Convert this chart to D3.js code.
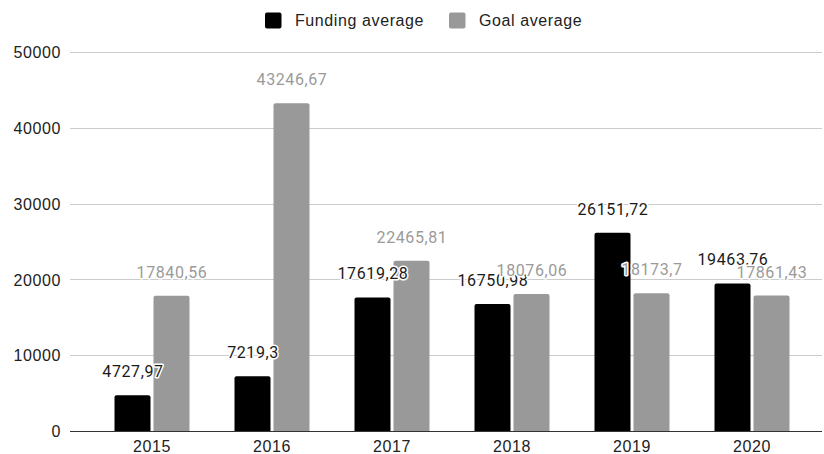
<!DOCTYPE html>
<html><head><meta charset="utf-8">
<script src="https://cdn.jsdelivr.net/npm/d3@7"></script>
<style>
html,body{margin:0;padding:0;background:#fff;}
svg{display:block;}
</style></head>
<body>
<svg id="chart" width="824" height="454"></svg>
<script>
const years = ["2015","2016","2017","2018","2019","2020"];
const fundingAverage = [4727.97, 7219.3, 17619.28, 16750.98, 26151.72, 19463.76];
const goalAverage = [17840.56, 43246.67, 22465.81, 18076.06, 18173.7, 17861.43];
const fundingLabels = ["4727,97","7219,3","17619,28","16750,98","26151,72","19463,76"];
const goalLabels = ["17840,56","43246,67","22465,81","18076,06","18173,7","17861,43"];
const yTicks = [0,10000,20000,30000,40000,50000];
const seriesNames = ["Funding average","Goal average"];
const seriesColors = ["#000000","#999999"];
const labelColors = ["#1a1a1a","#9a9a9a"];

const svg = d3.select("#chart");
const y = d3.scaleLinear().domain([0,50000]).range([431,52]);
const x = d3.scaleBand().domain(years).range([92,812]);
const xs = d3.scaleBand().domain([0,1]).range([22.5,97.5]).paddingInner(0.077);

// gridlines
svg.append("g").selectAll("line").data(yTicks.filter(d=>d>0)).join("line")
  .attr("x1",70).attr("x2",822)
  .attr("y1",d=>Math.round(y(d))+0.5).attr("y2",d=>Math.round(y(d))+0.5)
  .attr("stroke","#cccccc").attr("stroke-width",1);

// y axis labels
const yAxis = d3.axisLeft(y).tickValues(yTicks).tickSize(0).tickPadding(0).tickFormat(d3.format("d"));
const ga = svg.append("g").attr("transform","translate(61,0)").call(yAxis);
ga.select(".domain").remove();
ga.selectAll("text").attr("font-family","'Liberation Sans', Arial, sans-serif")
  .attr("font-size","16px").attr("fill","#222").attr("letter-spacing","0.6px")
  .attr("dy","0.35em");

const series = [fundingAverage, goalAverage];
const labels = [fundingLabels, goalLabels];

function barPath(x0, w, yt, yb, r){
  return `M${x0},${yb}V${yt+r}Q${x0},${yt} ${x0+r},${yt}H${x0+w-r}Q${x0+w},${yt} ${x0+w},${yt+r}V${yb}Z`;
}

series.forEach((vals,si)=>{
  svg.append("g").selectAll("path").data(vals).join("path")
    .attr("d",(v,i)=>barPath(x(years[i])+xs(si), xs.bandwidth(), y(v), y(0), 2))
    .attr("fill",seriesColors[si]);
});

// baseline
svg.append("line").attr("x1",70).attr("x2",822).attr("y1",431.5).attr("y2",431.5)
  .attr("stroke","#333").attr("stroke-width",1.2);

// x axis labels
const xAxis = d3.axisBottom(x).tickSize(0).tickPadding(0);
const gx = svg.append("g").attr("transform","translate(0,452)").call(xAxis);
gx.select(".domain").remove();
gx.selectAll("text").attr("font-family","'Liberation Sans', Arial, sans-serif")
  .attr("font-size","16px").attr("fill","#222").attr("letter-spacing","0.6px")
  .attr("dy","0");

// value labels
series.forEach((vals,si)=>{
  const g = svg.append("g");
  vals.forEach((v,i)=>{
    const cx = x(years[i])+xs(si)+xs.bandwidth()/2 + 0.5;
    const ty = y(v) - 18;
    g.append("text").attr("x",cx).attr("y",ty).attr("text-anchor","middle")
      .attr("font-family","Roboto, sans-serif").attr("font-size","16px").attr("letter-spacing","0.6px")
      .attr("stroke","#fff").attr("stroke-width",3).attr("stroke-linejoin","round")
      .attr("fill","#fff").text(labels[si][i]);
    g.append("text").attr("x",cx).attr("y",ty).attr("text-anchor","middle")
      .attr("font-family","Roboto, sans-serif").attr("font-size","16px").attr("letter-spacing","0.6px")
      .attr("fill",labelColors[si]).text(labels[si][i]);
  });
});

// legend
const legX = [265, 449];
const lg = svg.append("g");
seriesNames.forEach((n,i)=>{
  lg.append("rect").attr("x",legX[i]).attr("y",12.5).attr("width",16.5).attr("height",16)
    .attr("rx",2).attr("fill",seriesColors[i]);
  lg.append("text").attr("x",legX[i]+30).attr("y",26).attr("font-family","'Liberation Sans', Arial, sans-serif")
    .attr("font-size","16px").attr("letter-spacing","0.6px").attr("fill","#222").text(n);
});
</script>
</body></html>
